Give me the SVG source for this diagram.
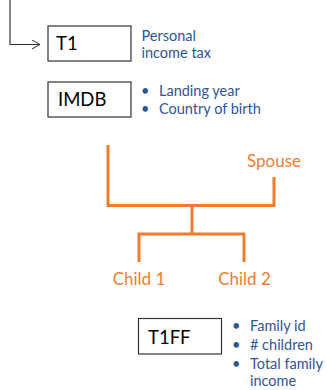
<svg xmlns="http://www.w3.org/2000/svg" width="327" height="390" viewBox="0 0 327 390">
<style>
.box{fill:#fff;stroke:#333;stroke-width:1.2}
.bt{font-family:Lato,"Open Sans",sans-serif;font-size:18.5px;fill:#000}
.bl{font-family:Lato,"Open Sans",sans-serif;font-size:14.5px;fill:#2F5597}
.or{font-family:Lato,"Open Sans",sans-serif;font-size:17px;fill:#ED7D31;text-anchor:middle}
.ol{fill:none;stroke:#ED7D31;stroke-width:3;stroke-linejoin:miter;stroke-linecap:butt}
</style>
<defs>
<marker id="arr" markerWidth="12" markerHeight="12" refX="9" refY="5" orient="auto" markerUnits="userSpaceOnUse">
<path d="M1,0.5 L9,5 L1,9.5" fill="none" stroke="#333" stroke-width="1"/>
</marker>
</defs>
<g id="connectors">
<path d="M10,0 V44.5 H40" fill="none" stroke="#333" stroke-width="1.2" marker-end="url(#arr)"/>
<path class="ol" d="M108,145 V205.5 H274 V177"/>
<path class="ol" d="M192,205.5 V234"/>
<path class="ol" d="M139,262 V234 H244 V262"/>
</g>
<g id="T1">
<rect class="box" x="48" y="26" width="83" height="35"/>
<text class="bt" x="56" y="50">T1</text>
</g>
<g id="T1-note">
<text class="bl" x="141.5" y="40.5">Personal</text>
<text class="bl" x="141.5" y="58">income tax</text>
</g>
<g id="IMDB">
<rect class="box" x="48" y="82" width="83" height="35"/>
<text class="bt" x="58" y="106">IMDB</text>
</g>
<g id="IMDB-note">
<text class="bl" x="141" y="96">•</text>
<text class="bl" x="159" y="96">Landing year</text>
<text class="bl" x="141" y="114">•</text>
<text class="bl" x="159" y="114">Country of birth</text>
</g>
<g id="Spouse">
<text class="or" x="274" y="166.5">Spouse</text>
</g>
<g id="Child1">
<text class="or" x="139" y="285">Child 1</text>
</g>
<g id="Child2">
<text class="or" x="244.5" y="285">Child 2</text>
</g>
<g id="T1FF">
<rect class="box" x="138.5" y="318.5" width="83" height="35.5"/>
<text class="bt" x="148" y="343.5">T1FF</text>
</g>
<g id="T1FF-note">
<text class="bl" x="232" y="331">•</text>
<text class="bl" x="250" y="331">Family id</text>
<text class="bl" x="232" y="350">•</text>
<text class="bl" x="250" y="350"># children</text>
<text class="bl" x="232" y="369">•</text>
<text class="bl" x="250" y="369">Total family</text>
<text class="bl" x="250" y="385.5">income</text>
</g>
</svg>
